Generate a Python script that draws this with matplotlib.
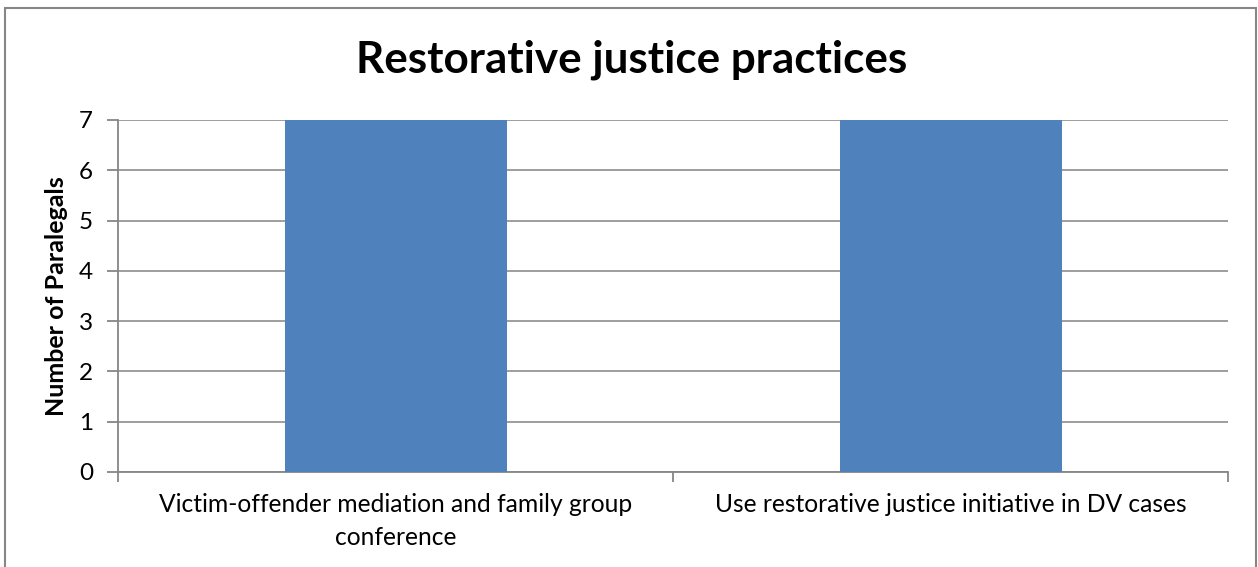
import matplotlib
matplotlib.use("Agg")
import matplotlib.pyplot as plt
from matplotlib.patches import Rectangle

categories = ["Victim-offender mediation and family group\nconference",
              "Use restorative justice initiative in DV cases"]
values = [7, 7]
y_ticks = [0, 1, 2, 3, 4, 5, 6, 7]

plt.rcParams['font.family'] = ['Lato', 'DejaVu Sans']

W, H = 1258, 567
fig = plt.figure(figsize=(W / 100, H / 100), dpi=100)

# outer chart border
fig.patches.append(Rectangle((5 / W, -0.05), (1256 - 5) / W, 1.05 - 8 / H,
                             transform=fig.transFigure, fill=False,
                             edgecolor='#868686', linewidth=1.5))

left, right, top, bottom = 118, 1228, 120, 472
ax = fig.add_axes([left / W, 1 - bottom / H, (right - left) / W, (bottom - top) / H])

x = list(range(len(categories)))
ax.bar(x, values, width=0.4, color='#4F81BD', zorder=3)

ax.set_xlim(-0.5, len(categories) - 0.5)
ax.set_ylim(0, 7)
ax.set_yticks(y_ticks)
ax.yaxis.grid(True, color='#969696', linewidth=1.3, zorder=0)
for s in ['top', 'right']:
    ax.spines[s].set_visible(False)
for s in ['left', 'bottom']:
    ax.spines[s].set_color('#868686')
    ax.spines[s].set_linewidth(1.3)

ax.tick_params(axis='y', length=8, width=1.3, color='#868686', labelsize=17.5, pad=10)
ax.set_xticks([-0.5, 0.5, 1.5])
ax.set_xticklabels([])
ax.tick_params(axis='x', length=7, width=1.3, color='#868686', direction='out')
for i, lab in enumerate(categories):
    ax.text(i, -0.42, lab, ha='center', va='top', fontsize=17.7, linespacing=1.5)

ax.set_ylabel('Number of Paralegals', fontsize=18, fontweight='bold', labelpad=8)
fig.text(632 / W, 1 - 60 / H, 'Restorative justice practices', ha='center',
         va='center', fontsize=31.7, fontweight='bold')

fig.savefig('out.png', dpi=100)
